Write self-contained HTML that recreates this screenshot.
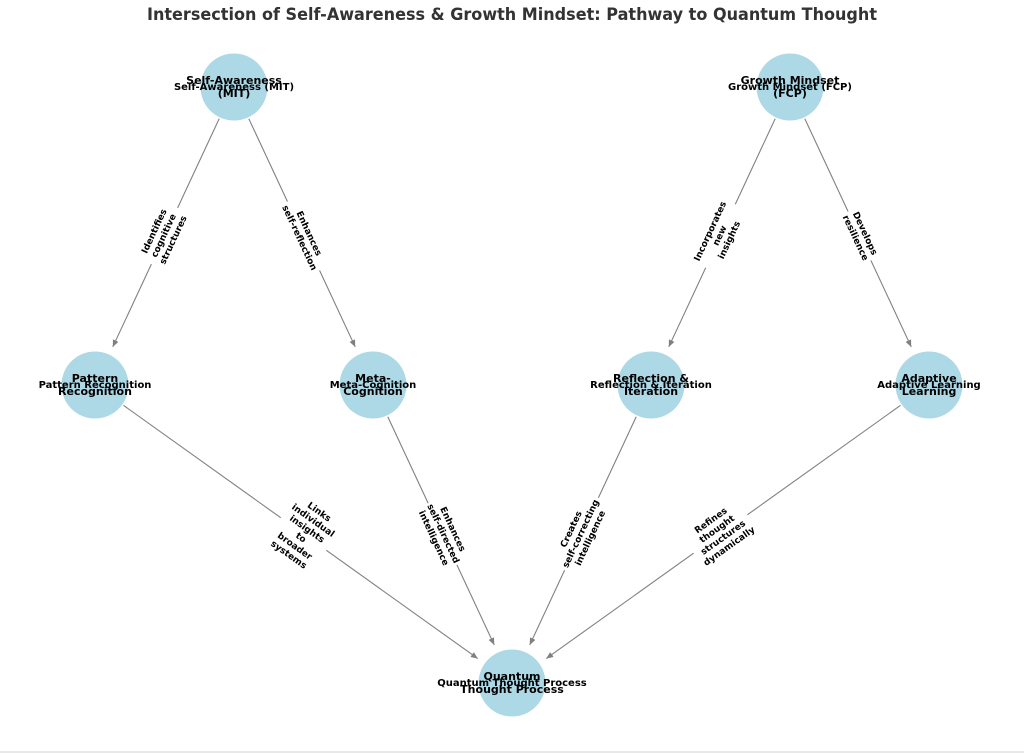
<!DOCTYPE html>
<html><head><meta charset="utf-8"><style>
html,body{margin:0;padding:0;background:#fff;}
svg{display:block;}
text{font-family:"DejaVu Sans","Liberation Sans",sans-serif;font-weight:bold;}
</style></head><body>
<svg width="1024" height="753" viewBox="0 0 1024 753" xmlns="http://www.w3.org/2000/svg">
<defs>
<marker id="ah" markerUnits="userSpaceOnUse" markerWidth="10" markerHeight="10" refX="7" refY="3" orient="auto">
<path d="M0,0 L7,3 L0,6 Z" fill="#808080"/>
</marker>
</defs>
<rect width="1024" height="753" fill="#fff"/>
<line x1="0" y1="752" x2="1024" y2="752" stroke="#e0e0e0" stroke-width="1.5"/>
<text x="512" y="20" text-anchor="middle" font-size="17" fill="#333" textLength="730" lengthAdjust="spacingAndGlyphs">Intersection of Self-Awareness &amp; Growth Mindset: Pathway to Quantum Thought</text>

<g stroke="#808080" stroke-width="1.1" fill="none" marker-end="url(#ah)">
<line x1="219.2" y1="118.7" x2="112.75" y2="346.94"/>
<line x1="248.8" y1="118.7" x2="355.25" y2="346.94"/>
<line x1="775.2" y1="118.7" x2="668.75" y2="346.94"/>
<line x1="804.8" y1="118.7" x2="911.25" y2="346.94"/>
<line x1="123.48" y1="405.35" x2="477.83" y2="658.58"/>
<line x1="387.79" y1="416.72" x2="494.25" y2="644.94"/>
<line x1="636.21" y1="416.72" x2="529.75" y2="644.94"/>
<line x1="900.52" y1="405.35" x2="546.17" y2="658.58"/>
</g>

<g font-size="9" fill="#000" text-anchor="middle" dominant-baseline="central">
<g transform="translate(164.5,236) rotate(-65)">
<rect x="-31" y="-18" width="62" height="36" fill="#fff"/>
<text y="-10.5">Identifies</text><text y="0">cognitive</text><text y="10.5">structures</text>
</g>
<g transform="translate(303.5,236) rotate(65)">
<rect x="-38" y="-12.5" width="76" height="25" fill="#fff"/>
<text y="-5.25">Enhances</text><text y="5.25">self-reflection</text>
</g>
<g transform="translate(720.5,236) rotate(-65)">
<rect x="-35" y="-18" width="70" height="36" fill="#fff"/>
<text y="-10.5">Incorporates</text><text y="0">new</text><text y="10.5">insights</text>
</g>
<g transform="translate(859.5,236) rotate(65)">
<rect x="-27" y="-12.5" width="54" height="25" fill="#fff"/>
<text y="-5.25">Develops</text><text y="5.25">resilience</text>
</g>
<g transform="translate(303.5,534) rotate(35.55)">
<rect x="-28" y="-33.5" width="56" height="67" fill="#fff"/>
<text y="-26.25">Links</text><text y="-15.75">individual</text><text y="-5.25">insights</text><text y="5.25">to</text><text y="15.75">broader</text><text y="26.25">systems</text>
</g>
<g transform="translate(442.5,534) rotate(65)">
<rect x="-34" y="-18" width="68" height="36" fill="#fff"/>
<text y="-10.5">Enhances</text><text y="0">self-directed</text><text y="10.5">intelligence</text>
</g>
<g transform="translate(581.5,534) rotate(-65)">
<rect x="-40" y="-18" width="80" height="36" fill="#fff"/>
<text y="-10.5">Creates</text><text y="0">self-correcting</text><text y="10.5">intelligence</text>
</g>
<g transform="translate(720.5,534) rotate(-35.55)">
<rect x="-33" y="-23" width="66" height="46" fill="#fff"/>
<text y="-15.75">Refines</text><text y="-5.25">thought</text><text y="5.25">structures</text><text y="15.75">dynamically</text>
</g>
</g>

<g fill="#add8e6">
<circle cx="234" cy="87" r="33.5"/>
<circle cx="790" cy="87" r="33.5"/>
<circle cx="95" cy="385" r="33.5"/>
<circle cx="373" cy="385" r="33.5"/>
<circle cx="651" cy="385" r="33.5"/>
<circle cx="929" cy="385" r="33.5"/>
<circle cx="512" cy="683" r="33.5"/>
</g>

<g fill="#000" text-anchor="middle" dominant-baseline="central">
<g font-size="11">
<text x="234" y="80.7">Self-Awareness</text><text x="234" y="93.3">(MIT)</text>
<text x="790" y="80.7">Growth Mindset</text><text x="790" y="93.3">(FCP)</text>
<text x="95" y="378.7">Pattern</text><text x="95" y="391.3">Recognition</text>
<text x="373" y="378.7">Meta-</text><text x="373" y="391.3">Cognition</text>
<text x="651" y="378.7">Reflection &amp;</text><text x="651" y="391.3">Iteration</text>
<text x="929" y="378.7">Adaptive</text><text x="929" y="391.3">Learning</text>
<text x="512" y="676.7">Quantum</text><text x="512" y="689.3">Thought Process</text>
</g>
<g font-size="10">
<text x="234" y="87.3">Self-Awareness (MIT)</text>
<text x="790" y="87.3">Growth Mindset (FCP)</text>
<text x="95" y="385.3">Pattern Recognition</text>
<text x="373" y="385.3">Meta-Cognition</text>
<text x="651" y="385.3">Reflection &amp; Iteration</text>
<text x="929" y="385.3">Adaptive Learning</text>
<text x="512" y="683.3">Quantum Thought Process</text>
</g>
</g>
</svg>
</body></html>
